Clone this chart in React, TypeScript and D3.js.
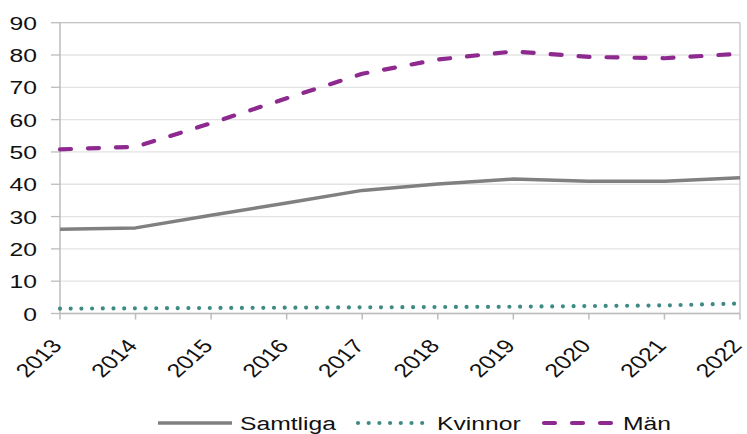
import React from "react";
import * as d3 from "d3";

const years = ["2013", "2014", "2015", "2016", "2017", "2018", "2019", "2020", "2021", "2022"];
const samtliga = [26.1, 26.5, 30.4, 34.2, 38.1, 40.1, 41.6, 40.9, 40.9, 42.0];
const kvinnor = [1.5, 1.6, 1.7, 1.8, 1.9, 2.0, 2.1, 2.3, 2.5, 3.1];
const man = [50.8, 51.6, 58.9, 66.6, 74.2, 78.6, 81.1, 79.4, 79.0, 80.4];
const yTicks = [0, 10, 20, 30, 40, 50, 60, 70, 80, 90];

const W = 747;
const H = 434;
const left = 60;
const right = 740;
const top = 22.7;
const bottom = 313.5;
const SX = 1.3;
const FONT = "'Liberation Sans', Arial, sans-serif";

export default function App() {
  const x = d3.scalePoint<string>().domain(years).range([left, right]);
  const y = d3.scaleLinear().domain([0, 90]).range([bottom, top]);
  const line = d3
    .line<number>()
    .x((_, i) => x(years[i]) as number)
    .y((d) => y(d))
    .curve(d3.curveLinear);

  const series = [
    { name: "Samtliga", data: samtliga, color: "#808080", width: 3.5, dash: undefined as string | undefined, cap: "butt" },
    { name: "Kvinnor", data: kvinnor, color: "#3f8a84", width: 4.2, dash: "0 10.7", cap: "round" },
    { name: "Män", data: man, color: "#8e2a8f", width: 4.2, dash: "11 17", cap: "round" },
  ];

  const legend = [
    { s: series[0], x1: 158, x2: 232, tx: 240 },
    { s: series[1], x1: 358, x2: 427, tx: 437 },
    { s: series[2], x1: 544, x2: 613, tx: 623 },
  ];

  return (
    <svg width={W} height={H} style={{ position: "absolute", left: 0, top: 0 }} fontFamily={FONT}>
      <rect x={0} y={0} width={W} height={H} fill="#fff" />
      {yTicks.map((t) => (
        <line key={"g" + t} x1={left} x2={right} y1={y(t)} y2={y(t)} stroke="#e3e3e3" strokeWidth={1.3} />
      ))}
      <line x1={left} x2={right} y1={top} y2={top} stroke="#c4c4c4" strokeWidth={1.3} />
      <line x1={right} x2={right} y1={top} y2={bottom} stroke="#c4c4c4" strokeWidth={1.3} />
      <line x1={left} x2={left} y1={top} y2={bottom} stroke="#bcbcbc" strokeWidth={1.5} />
      <line x1={left} x2={right} y1={bottom} y2={bottom} stroke="#bcbcbc" strokeWidth={1.5} />
      {yTicks.map((t) => (
        <g key={"y" + t}>
          <line x1={51} x2={left} y1={y(t)} y2={y(t)} stroke="#bcbcbc" strokeWidth={1.3} />
          <text
            transform={`translate(37,${y(t) + 7}) scale(${SX},1)`}
            textAnchor="end"
            fontSize={19}
            fill="#111"
          >
            {t}
          </text>
        </g>
      ))}
      {years.map((yr) => (
        <g key={"x" + yr}>
          <line x1={x(yr)} x2={x(yr)} y1={bottom} y2={bottom + 6} stroke="#bcbcbc" strokeWidth={1.5} />
          <text
            transform={`translate(${(x(yr) as number) + 3},${bottom + 33}) scale(${SX},1) rotate(-49)`}
            textAnchor="end"
            fontSize={19}
            fill="#111"
          >
            {yr}
          </text>
        </g>
      ))}
      {series.map((s) => (
        <path
          key={s.name}
          d={line(s.data) as string}
          fill="none"
          stroke={s.color}
          strokeWidth={s.width}
          strokeDasharray={s.dash}
          strokeLinecap={s.cap as any}
          strokeLinejoin="round"
        />
      ))}
      {legend.map((l) => (
        <g key={"l" + l.s.name}>
          <line
            x1={l.x1}
            x2={l.x2}
            y1={423}
            y2={423}
            stroke={l.s.color}
            strokeWidth={l.s.width}
            strokeDasharray={l.s.dash}
            strokeLinecap={l.s.cap as any}
          />
          <text transform={`translate(${l.tx},430) scale(${SX},1)`} fontSize={19} fill="#111">
            {l.s.name}
          </text>
        </g>
      ))}
    </svg>
  );
}
